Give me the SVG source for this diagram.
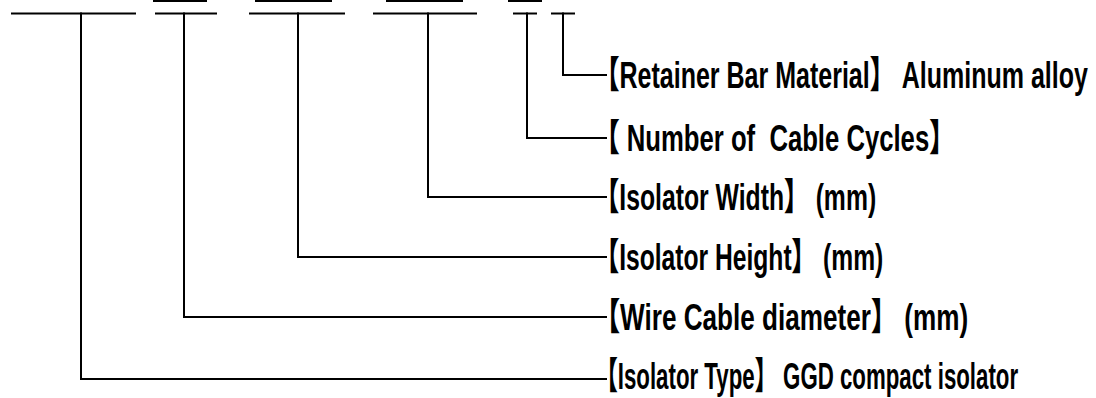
<svg xmlns="http://www.w3.org/2000/svg" width="1096" height="398" viewBox="0 0 1096 398">
<style>
.ln{stroke:#000;stroke-width:2;fill:none;stroke-linecap:square}
.bar{stroke:#000;stroke-width:3;fill:none}
.lb{font-family:"Liberation Sans","Noto Sans CJK SC",sans-serif;font-size:37px;font-weight:bold;fill:#000}
.br{font-family:"Noto Sans CJK SC",sans-serif;font-weight:900}
</style>
<rect width="1096" height="398" fill="#fff"/>
<g id="code-slots">
<line class="bar" x1="153" y1="0.5" x2="207" y2="0.5"/>
<line class="bar" x1="255" y1="0.5" x2="332" y2="0.5"/>
<line class="bar" x1="386" y1="0.5" x2="463" y2="0.5"/>
<line class="bar" x1="508" y1="0.5" x2="542" y2="0.5"/>
<line class="ln" x1="12" y1="13.5" x2="135" y2="13.5"/>
<line class="ln" x1="156" y1="13.5" x2="216" y2="13.5"/>
<line class="ln" x1="250" y1="13.5" x2="344" y2="13.5"/>
<line class="ln" x1="374" y1="13.5" x2="476" y2="13.5"/>
<line class="ln" x1="514" y1="13.5" x2="536" y2="13.5"/>
<line class="ln" x1="552" y1="13.5" x2="574" y2="13.5"/>
</g>
<g id="connectors">
<polyline class="ln" points="563,13.5 563,75 606,75"/>
<polyline class="ln" points="527,13.5 527,138 606,138"/>
<polyline class="ln" points="428,13.5 428,197 606,197"/>
<polyline class="ln" points="298,13.5 298,257 606,257"/>
<polyline class="ln" points="184,13.5 184,317 606,317"/>
<polyline class="ln" points="81,13.5 81,379 606,379"/>
</g>
<g id="retainer-bar-material"><text class="lb" transform="translate(594.5,88) scale(0.676,1)"><tspan class="br">【</tspan>Retainer Bar Material<tspan class="br">】</tspan> Aluminum alloy</text></g>
<g id="number-of-cable-cycles"><text class="lb" transform="translate(594,151) scale(0.694,1)"><tspan class="br">【</tspan> Number of &#160;Cable Cycles<tspan class="br">】</tspan></text></g>
<g id="isolator-width"><text class="lb" transform="translate(594.5,210) scale(0.669,1)"><tspan class="br">【</tspan>Isolator Width<tspan class="br">】</tspan> (mm)</text></g>
<g id="isolator-height"><text class="lb" transform="translate(594.5,270) scale(0.666,1)"><tspan class="br">【</tspan>Isolator Height<tspan class="br">】</tspan> (mm)</text></g>
<g id="wire-cable-diameter"><text class="lb" transform="translate(594,330) scale(0.706,1)"><tspan class="br">【</tspan>Wire Cable diameter<tspan class="br">】</tspan> (mm)</text></g>
<g id="isolator-type"><text class="lb" transform="translate(595.5,389) scale(0.602,1)"><tspan class="br">【</tspan>Isolator Type<tspan class="br">】</tspan> GGD compact isolator</text></g>
</svg>
